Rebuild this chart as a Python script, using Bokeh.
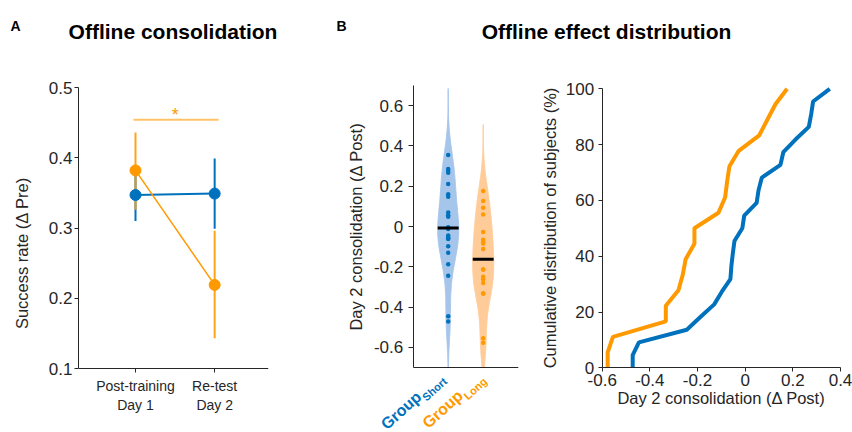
import numpy as np
from bokeh.plotting import figure
from bokeh.layouts import row, column
from bokeh.models import Range1d, FixedTicker, NumeralTickFormatter, Label
from bokeh.embed import file_html
from bokeh.resources import INLINE

# ---------------- data ----------------
BLUE = "#0072BD"
ORANGE = "#FF9900"
BLUE_FILL = "#A6C5EA"
ORANGE_FILL = "#FFCC99"

# Panel A: offline consolidation (mean and error range)
sessions = [1, 2]
session_labels = ["Post-training\nDay 1", "Re-test\nDay 2"]
short_mean = [0.347, 0.349]
short_lo = [0.310, 0.299]
short_hi = [0.384, 0.399]
long_mean = [0.382, 0.219]
long_lo = [0.326, 0.143]
long_hi = [0.436, 0.296]
sig_bar_x = [0.975, 2.05]
sig_bar_y = 0.454

# Panel B: day-2 consolidation per subject
group_pos = [1, 2]
group_names = ["Group", "Group"]
group_subs = ["Short", "Long"]
short_d2 = [-0.472, -0.446, -0.245, -0.188, -0.130, -0.098, -0.062, -0.058,
            -0.052, -0.045, -0.012, -0.004, 0.048, 0.056, 0.070, 0.148,
            0.160, 0.211, 0.267, 0.277, 0.285, 0.355]
long_d2 = [-0.577, -0.555, -0.333, -0.333, -0.280, -0.262, -0.250, -0.213,
           -0.213, -0.112, -0.084, -0.076, -0.066, -0.027, 0.059, 0.093,
           0.127, 0.176]
kde_bw = 0.11
violin_half_width = 0.3

# Panel C axis ticks
cdf_xticks = [-0.6, -0.4, -0.2, 0, 0.2, 0.4]
cdf_yticks = [0, 20, 40, 60, 80, 100]

FONT = "'Liberation Sans', Arial, sans-serif"
AX = "#262626"
TICK_SIZE = "17px"
LABEL_SIZE = "16.5px"


def style(p):
    p.outline_line_color = None
    p.grid.visible = False
    for ax in p.axis:
        ax.axis_line_color = AX
        ax.axis_line_width = 1
        ax.major_tick_line_color = AX
        ax.minor_tick_line_color = None
        ax.major_tick_out = 4
        ax.major_tick_in = 0
        ax.major_label_text_font = FONT
        ax.major_label_text_font_size = TICK_SIZE
        ax.major_label_text_color = AX
        ax.axis_label_text_font = FONT
        ax.axis_label_text_font_size = LABEL_SIZE
        ax.axis_label_text_font_style = "normal"
        ax.axis_label_text_color = AX


TITLE_H = 48
ROW_H = 384
TOP = 25            # common top border of the three panels
ROW_Y0 = TITLE_H    # page y of the row's top edge


def extend_y(lo_val, hi_val, px_lo, px_hi):
    """y range whose frame runs from page y (ROW_Y0+TOP) to the page bottom,
    given that lo_val sits at page y px_lo and hi_val at page y px_hi."""
    per_px = (hi_val - lo_val) / (px_lo - px_hi)
    top_px = ROW_Y0 + TOP
    bot_px = ROW_Y0 + ROW_H
    return lo_val - (bot_px - px_lo) * per_px, hi_val + (px_hi - top_px) * per_px


def extend_x(lo_val, hi_val, px_lo, px_hi, frame_l, frame_r):
    per_px = (hi_val - lo_val) / (px_hi - px_lo)
    return lo_val - (px_lo - frame_l) * per_px, hi_val + (frame_r - px_hi) * per_px


# ---------------- titles ----------------
t = figure(width=852, height=TITLE_H, x_range=Range1d(0, 852), y_range=Range1d(TITLE_H, 0),
           toolbar_location=None, output_backend="svg", min_border=0,
           x_axis_type=None, y_axis_type=None)
t.outline_line_color = None
t.grid.visible = False
for txt, x, y, size, align in [("A", 10, 25.5, "14px", "left"),
                               ("Offline consolidation", 172.5, 30.5, "21px", "center"),
                               ("B", 336, 25.5, "14px", "left"),
                               ("Offline effect distribution", 606, 30.5, "21px", "center")]:
    t.add_layout(Label(x=x, y=y, text=txt, text_font=FONT, text_font_size=size,
                       text_font_style="bold", text_color="black", text_align=align,
                       text_baseline="alphabetic"))

# ---------------- panel A ----------------
a_lo, a_hi = extend_y(0.1, 0.5, 368, 87)
pA = figure(width=320, height=ROW_H, x_range=Range1d(0.28, 2.68), y_range=Range1d(a_lo, a_hi),
            toolbar_location=None, output_backend="svg",
            min_border_left=78, min_border_right=52, min_border_top=TOP, min_border_bottom=0)
style(pA)
pA.yaxis.bounds = (0.1, 0.5)
pA.yaxis.ticker = FixedTicker(ticks=[0.1, 0.2, 0.3, 0.4, 0.5])
pA.yaxis.formatter = NumeralTickFormatter(format="0.[0]")
pA.yaxis.axis_label = "Success rate (Δ Pre)"
pA.yaxis.major_label_standoff = 2
pA.yaxis.axis_label_standoff = 15
pA.xaxis.fixed_location = 0.1
pA.xaxis.ticker = FixedTicker(ticks=sessions)
pA.xaxis.major_label_overrides = {s: l for s, l in zip(sessions, session_labels)}
pA.xaxis.major_label_text_font_size = "14px"
pA.xaxis.major_label_standoff = 5

pA.segment(x0=sessions, y0=short_lo, x1=sessions, y1=short_hi, line_color=BLUE, line_width=2)
pA.segment(x0=sessions, y0=long_lo, x1=sessions, y1=long_hi, line_color=ORANGE, line_width=2,
           line_alpha=0.9)
pA.line(sessions, short_mean, line_color=BLUE, line_width=2)
pA.line(sessions, long_mean, line_color=ORANGE, line_width=1.5)
pA.scatter(sessions, short_mean, size=11, fill_color=BLUE, line_color=BLUE)
pA.scatter(sessions, long_mean, size=11, fill_color=ORANGE, line_color=ORANGE)
pA.line(sig_bar_x, [sig_bar_y, sig_bar_y], line_color=ORANGE, line_alpha=0.6, line_width=2)
pA.add_layout(Label(x=float(np.mean(sig_bar_x)) - 0.01, y=sig_bar_y, y_offset=5, text="*",
                    text_font=FONT, text_font_size="18px",
                    text_color=ORANGE, text_align="center", text_baseline="alphabetic"))

# ---------------- panel B (violins) ----------------
# frame covers the figure below the top border so rotated group names are not clipped;
# the axes are drawn at fixed data locations inside it.
B_X0, B_W, B_LEFT, B_RIGHT = 320, 210, 10, 12
b_xlo, b_xhi = extend_x(0, 3, 412.7, 517.7, B_X0 + B_LEFT, B_X0 + B_W - B_RIGHT)
b_lo, b_hi = extend_y(-0.7, 0.7, 367, 85)
pB = figure(width=B_W, height=ROW_H, x_range=Range1d(b_xlo, b_xhi), y_range=Range1d(b_lo, b_hi),
            toolbar_location=None, output_backend="svg",
            min_border_left=B_LEFT, min_border_right=B_RIGHT, min_border_top=TOP,
            min_border_bottom=0)
style(pB)
pB.yaxis.fixed_location = 0
pB.yaxis.bounds = (-0.7, 0.7)
pB.yaxis.ticker = FixedTicker(ticks=[-0.6, -0.4, -0.2, 0, 0.2, 0.4, 0.6])
pB.yaxis.formatter = NumeralTickFormatter(format="0.[0]")
pB.yaxis.axis_label = "Day 2 consolidation (Δ Post)"
pB.yaxis.major_tick_out = 5
pB.yaxis.major_label_standoff = 5
pB.yaxis.axis_label_standoff = 6
pB.xaxis.fixed_location = -0.7
pB.xaxis.bounds = (0, 3)
pB.xaxis.ticker = FixedTicker(ticks=[])
pB.xaxis.major_tick_line_color = None


def kde(data, grid, bw):
    d = np.asarray(data)[:, None]
    return np.exp(-0.5 * ((grid[None, :] - d) / bw) ** 2).sum(axis=0)


for pos, data, col, fill in [(group_pos[0], short_d2, BLUE, BLUE_FILL),
                             (group_pos[1], long_d2, ORANGE, ORANGE_FILL)]:
    data = np.asarray(data)
    lo = max(data.min() - 3 * kde_bw, -0.7)
    hi = min(data.max() + 3 * kde_bw, 0.7)
    grid = np.linspace(lo, hi, 300)
    dens = kde(data, grid, kde_bw)
    dmax = dens.max()
    hw = dens / dmax * violin_half_width
    xs = np.concatenate([pos + hw, (pos - hw)[::-1]])
    ys = np.concatenate([grid, grid[::-1]])
    pB.patch(xs, ys, fill_color=fill, line_color=fill, line_width=1)
    pB.scatter([pos] * len(data), data, size=4.5, fill_color=col, line_color=None)
    med = float(np.median(data))
    mhw = float(kde(data, np.array([med]), kde_bw)[0] / dmax * violin_half_width)
    pB.segment(x0=[pos - mhw], y0=[med], x1=[pos + mhw], y1=[med], line_color="black", line_width=3)

ANG = 42
theta = np.deg2rad(ANG)
u = np.array([np.cos(theta), np.sin(theta)])
v = np.array([-np.sin(theta), np.cos(theta)])
sub_w = {"Short": 29.5, "Long": 27.5}
for pos, name, sub, col, dx in zip(group_pos, group_names, group_subs, [BLUE, ORANGE], [-3.0, 2.0]):
    base = np.array([dx, -12.0])
    pB.add_layout(Label(x=pos, y=-0.7, x_offset=base[0], y_offset=base[1], text=sub,
                        angle=ANG, angle_units="deg", text_font=FONT,
                        text_font_size="11px", text_font_style="bold", text_color=col,
                        text_align="right", text_baseline="middle"))
    gp = base - sub_w[sub] * u + 6.5 * v
    pB.add_layout(Label(x=pos, y=-0.7, x_offset=gp[0], y_offset=gp[1], text=name,
                        angle=ANG, angle_units="deg", text_font=FONT,
                        text_font_size="16px", text_font_style="bold", text_color=col,
                        text_align="right", text_baseline="middle"))

# ---------------- panel C (cumulative distributions) ----------------
C_X0, C_W, C_LEFT, C_RIGHT = 530, 322, 10, 0
c_xlo, c_xhi = extend_x(-0.6, 0.4, 601.7, 840, C_X0 + C_LEFT, C_X0 + C_W - C_RIGHT)
c_lo, c_hi = extend_y(0, 100, 367.3, 88.3)
pC = figure(width=C_W, height=ROW_H, x_range=Range1d(c_xlo, c_xhi), y_range=Range1d(c_lo, c_hi),
            toolbar_location=None, output_backend="svg",
            min_border_left=C_LEFT, min_border_right=C_RIGHT, min_border_top=TOP,
            min_border_bottom=0)
style(pC)
pC.xaxis.fixed_location = 0
pC.xaxis.bounds = (-0.6, 0.4)
pC.xaxis.ticker = FixedTicker(ticks=cdf_xticks)
pC.xaxis.formatter = NumeralTickFormatter(format="0.[0]")
pC.xaxis.axis_label = "Day 2 consolidation (Δ Post)"
pC.xaxis.major_label_standoff = 2
pC.xaxis.axis_label_standoff = 0
pC.yaxis.fixed_location = -0.6
pC.yaxis.bounds = (0, 100)
pC.yaxis.ticker = FixedTicker(ticks=cdf_yticks)
pC.yaxis.axis_label = "Cumulative distribution of subjects (%)"
pC.yaxis.major_label_standoff = 4
pC.yaxis.axis_label_standoff = 4

for data, col in [(short_d2, BLUE), (long_d2, ORANGE)]:
    s = sorted(data)
    n = len(s)
    cx = [s[0]] + s
    cy = [0.0] + [100.0 * (i + 1) / n for i in range(n)]
    pC.line(cx, cy, line_color=col, line_width=4)

layout = column(t, row(pA, pB, pC))
open("out.html", "w").write(file_html(layout, INLINE))
